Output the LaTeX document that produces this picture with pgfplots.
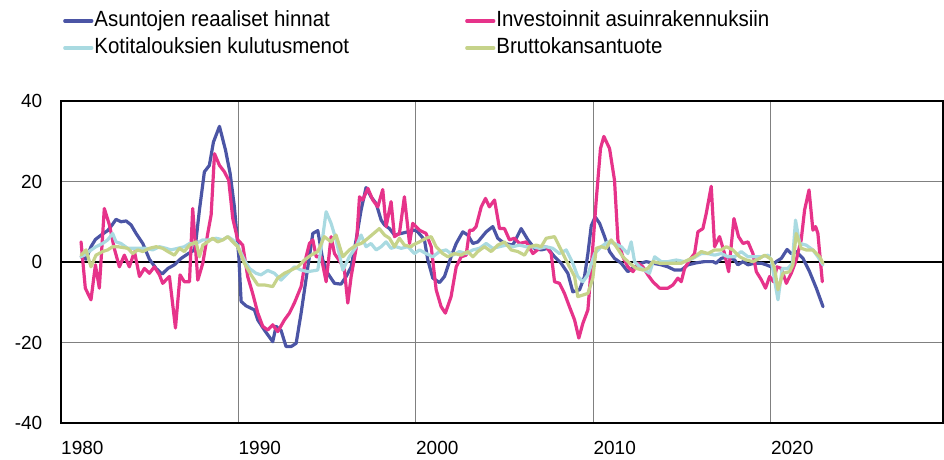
\documentclass[border=0pt]{standalone}
\usepackage{fontspec}
\setmainfont{Liberation Sans}
\newfontfamily\legfont[FakeStretch=0.93]{Liberation Sans}
\usepackage{pgfplots}
\pgfplotsset{compat=1.18}
\definecolor{cBlue}{HTML}{4B55A5}
\definecolor{cPink}{HTML}{E6338A}
\definecolor{cLight}{HTML}{A9DAE1}
\definecolor{cGreen}{HTML}{C6D38A}
\begin{document}
\begin{tikzpicture}
\path[use as bounding box] (0,0) rectangle (944pt,459pt);
\begin{axis}[
  at={(61pt,36pt)}, anchor=south west,
  width=882pt, height=322pt, scale only axis,
  xmin=1980, xmax=2029.7, ymin=-40, ymax=40,
  xtick={1980,1990,2000,2010,2020},
  xticklabels={1980,1990,2000,2010,2020},
  ytick={-40,-20,0,20,40},
  yticklabels={-40,-20,0,20,40},
  extra y ticks={0}, extra y tick labels={},
  extra y tick style={major grid style={black,line width=1.3pt}},
  grid=major,
  major grid style={gray,line width=1pt},
  major tick length=0pt,
  axis line style={black,line width=1.4pt},
  xticklabel style={anchor=north west,inner sep=0pt,yshift=-18pt,font=\fontsize{19}{22}\selectfont},
  yticklabel style={anchor=east,inner sep=0pt,xshift=-18.5pt,font=\fontsize{19}{22}\selectfont},
  /pgf/number format/assume math mode=true,
  clip=true,
  legend columns=2,
  legend cell align=left,
  legend style={at={(0.0023,1.2848)},anchor=north west,draw=none,fill=none,inner sep=0pt,
    font=\legfont\fontsize{22}{26}\selectfont,
    nodes={inner sep=1pt,text height=16pt,text depth=5pt},
    row sep=4pt,
    /tikz/every even column/.append style={column sep=115pt}},
  legend image code/.code={\draw[#1] (0pt,0pt) -- (27pt,0pt);},
  every axis plot/.append style={line width=3.2pt,line join=round,line cap=round},
]
\addplot[cBlue] table {
1981.13 1.3
1981.41 0.7
1981.69 3.8
1981.94 5.6
1982.26 6.7
1982.63 7.8
1982.88 9.2
1983.10 10.6
1983.38 10.0
1983.67 10.2
1983.95 9.2
1984.23 7.1
1984.61 4.6
1984.98 0.7
1985.36 -1.6
1985.70 -3.0
1986.02 -1.6
1986.39 -0.7
1986.77 0.9
1987.14 2.0
1987.52 3.0
1987.61 5.5
1987.80 12.9
1988.08 22.4
1988.36 24.0
1988.59 29.8
1988.93 33.7
1989.27 27.8
1989.53 22.0
1989.77 13.7
1990.02 1.3
1990.15 -9.8
1990.43 -10.9
1990.90 -11.9
1991.09 -14.4
1991.46 -16.9
1991.93 -19.8
1992.12 -16.0
1992.40 -17.0
1992.68 -21.0
1992.97 -21.0
1993.25 -20.2
1993.53 -12.7
1993.91 -1.2
1994.19 7.1
1994.47 7.8
1994.75 0.5
1995.03 -2.8
1995.41 -5.3
1995.78 -5.5
1996.07 -3.6
1996.35 -1.2
1996.63 5.5
1996.91 12.9
1997.19 18.5
1997.47 16.2
1997.76 14.5
1998.04 10.4
1998.23 9.2
1998.51 8.3
1998.79 6.7
1999.17 7.1
1999.54 7.5
1999.92 7.9
2000.10 7.5
2000.48 5.5
2000.67 0.5
2000.95 -4.0
2001.33 -5.1
2001.61 -3.6
2001.98 1.3
2002.27 4.6
2002.64 7.5
2002.92 6.7
2003.21 4.6
2003.49 5.0
2003.96 7.5
2004.33 8.8
2004.61 5.9
2004.99 4.6
2005.46 4.2
2005.93 8.3
2006.31 5.5
2006.68 3.4
2007.06 3.0
2007.43 3.4
2007.81 1.3
2008.18 -0.3
2008.56 -2.8
2008.84 -7.4
2009.22 -6.9
2009.50 -3.6
2009.69 2.1
2009.88 9.0
2010.10 11.2
2010.35 9.6
2010.63 6.3
2010.91 2.6
2011.19 0.9
2011.57 -0.3
2011.94 -2.4
2012.32 -1.2
2012.70 -0.3
2012.98 0.1
2013.35 -0.3
2013.82 -0.7
2014.20 -1.2
2014.57 -2.0
2014.95 -2.0
2015.33 -0.7
2015.80 -0.2
2016.26 0.1
2016.74 0.1
2016.92 -0.3
2017.20 0.9
2017.58 1.3
2017.96 0.5
2018.14 -0.7
2018.43 0.1
2018.71 -0.7
2019.08 -0.3
2019.46 -0.3
2019.74 -0.7
2020.02 -1.2
2020.30 0.1
2020.59 0.9
2020.91 3.1
2021.15 2.1
2021.43 2.6
2021.81 0.9
2022.18 -2.4
2022.56 -6.5
2022.94 -11.1
};
\addlegendentry{Asuntojen reaaliset hinnat}
\addplot[cPink] table {
1981.13 5.0
1981.37 -6.5
1981.69 -9.4
1981.94 -0.7
1982.16 -6.5
1982.44 13.3
1982.73 9.2
1983.00 3.4
1983.29 -1.2
1983.57 1.7
1983.85 -1.2
1984.14 2.6
1984.42 -3.6
1984.70 -1.6
1984.98 -2.8
1985.26 -1.2
1985.55 -3.2
1985.73 -5.3
1986.11 -3.6
1986.45 -16.4
1986.71 -3.2
1986.95 -4.9
1987.24 -4.9
1987.42 13.3
1987.71 -4.5
1987.99 -0.3
1988.27 7.1
1988.46 11.7
1988.65 26.9
1988.93 24.0
1989.21 22.4
1989.45 20.3
1989.68 10.8
1989.96 5.5
1990.24 4.2
1990.52 -3.6
1990.80 -7.8
1991.09 -12.7
1991.37 -16.0
1991.65 -16.9
1991.93 -15.6
1992.21 -17.3
1992.59 -14.4
1992.87 -12.7
1993.15 -10.2
1993.53 -6.1
1993.81 1.3
1994.00 4.6
1994.19 5.5
1994.38 1.3
1994.66 1.3
1994.94 -4.9
1995.22 6.3
1995.41 2.1
1995.78 -0.3
1995.97 -2.0
1996.16 -10.2
1996.35 -3.6
1996.63 3.4
1996.82 16.2
1997.00 15.4
1997.29 18.3
1997.57 15.4
1997.85 13.7
1998.13 18.0
1998.32 8.8
1998.60 15.0
1998.79 6.3
1999.07 7.1
1999.35 16.2
1999.64 4.6
1999.82 9.6
2000.20 7.9
2000.57 7.1
2000.86 3.8
2001.14 -6.9
2001.42 -11.1
2001.66 -12.7
2001.98 -8.6
2002.27 -1.2
2002.55 1.3
2002.83 1.7
2003.02 7.9
2003.21 7.9
2003.39 8.8
2003.68 13.7
2003.92 15.8
2004.14 13.7
2004.43 15.4
2004.71 8.3
2004.99 8.3
2005.27 5.5
2005.55 5.9
2005.84 4.6
2006.21 5.0
2006.59 2.1
2006.96 3.4
2007.34 3.8
2007.62 2.1
2007.81 -4.9
2008.09 -5.3
2008.37 -7.8
2008.65 -11.1
2008.94 -14.4
2009.18 -18.9
2009.41 -15.2
2009.69 -11.9
2009.97 4.0
2010.16 15.4
2010.40 28.2
2010.59 31.2
2010.91 28.2
2011.19 20.3
2011.38 5.5
2011.66 1.3
2011.94 -1.2
2012.23 -2.4
2012.51 -0.3
2012.79 -1.2
2013.07 -3.2
2013.35 -4.9
2013.73 -6.5
2014.20 -6.5
2014.48 -5.7
2014.76 -4.0
2014.95 -4.9
2015.14 -1.6
2015.42 0.5
2015.70 2.1
2015.89 7.5
2016.17 8.3
2016.36 12.1
2016.64 18.8
2016.83 3.8
2017.11 6.3
2017.39 2.1
2017.62 -2.4
2017.92 10.8
2018.18 6.3
2018.43 4.6
2018.71 5.0
2018.99 2.1
2019.18 -2.4
2019.46 -4.4
2019.70 -6.5
2019.93 -3.6
2020.15 -4.9
2020.34 -1.2
2020.59 -1.6
2020.87 -5.3
2021.15 -2.8
2021.43 0.5
2021.71 5.5
2021.90 12.9
2022.15 17.9
2022.37 7.9
2022.52 8.8
2022.65 7.1
2022.90 -4.9
};
\addlegendentry{Investoinnit asuinrakennuksiin}
\addplot[cLight] table {
1981.13 1.3
1981.41 2.1
1981.97 3.8
1982.35 4.6
1982.63 5.5
1982.91 7.1
1983.10 5.0
1983.38 4.6
1983.76 3.4
1984.42 3.4
1984.79 3.4
1985.17 3.0
1985.55 3.8
1985.92 3.4
1986.20 3.0
1986.95 3.8
1987.24 4.6
1987.61 4.6
1987.99 5.5
1988.36 5.5
1988.74 5.9
1989.12 5.5
1989.40 6.3
1989.68 5.5
1989.96 4.0
1990.33 0.5
1990.62 -1.6
1990.99 -2.8
1991.27 -3.2
1991.65 -2.1
1992.03 -2.8
1992.40 -4.5
1992.78 -2.8
1993.15 -1.2
1993.53 -2.0
1993.91 -2.4
1994.47 -2.0
1994.75 6.3
1994.94 12.5
1995.22 9.6
1995.50 5.5
1995.88 -2.0
1996.25 1.3
1996.63 3.8
1996.91 6.7
1997.19 3.8
1997.47 4.6
1997.76 3.0
1998.04 3.8
1998.32 5.0
1998.60 3.4
1998.88 3.8
1999.17 3.4
1999.54 3.8
1999.92 2.1
2000.20 3.0
2000.57 2.1
2000.95 1.3
2001.33 2.6
2001.70 3.0
2002.08 1.7
2002.45 2.6
2002.83 2.1
2003.21 3.0
2003.58 3.4
2003.96 4.6
2004.33 3.4
2004.71 3.8
2005.08 4.2
2005.46 3.8
2005.84 4.2
2006.21 3.8
2006.59 3.8
2006.96 3.4
2007.34 3.8
2007.71 3.4
2008.09 2.1
2008.47 3.0
2008.84 -0.3
2009.12 -3.6
2009.41 -4.9
2009.69 -3.2
2010.07 2.1
2010.44 3.8
2010.82 5.0
2011.19 4.6
2011.57 3.8
2011.94 2.1
2012.13 5.0
2012.32 0.1
2012.60 -1.2
2012.88 -2.0
2013.16 -2.8
2013.45 1.3
2013.82 0.1
2014.20 0.1
2014.67 0.5
2015.14 0.1
2015.61 0.9
2016.08 2.1
2016.45 2.1
2016.83 1.7
2017.20 2.1
2017.58 1.3
2017.96 1.3
2018.33 2.6
2018.71 1.3
2019.08 1.3
2019.46 1.3
2019.84 1.7
2020.02 0.5
2020.21 -4.5
2020.40 -9.4
2020.64 -1.6
2020.96 -1.6
2021.21 -0.3
2021.39 10.4
2021.62 4.6
2021.99 4.2
2022.37 3.0
2022.65 1.3
2022.94 -0.7
};
\addlegendentry{Kotitalouksien kulutusmenot}
\addplot[cGreen] table {
1981.13 1.7
1981.41 3.0
1981.69 -1.2
1981.97 1.7
1982.35 2.6
1982.63 3.0
1982.91 3.8
1983.20 3.8
1983.76 3.4
1984.04 2.1
1984.32 3.0
1984.61 2.6
1984.98 3.4
1985.36 3.8
1985.73 3.4
1986.02 2.6
1986.39 1.7
1986.67 3.4
1986.95 2.6
1987.24 4.2
1987.61 5.0
1987.80 1.3
1987.99 4.2
1988.27 5.0
1988.55 5.9
1988.83 5.0
1989.12 5.5
1989.40 6.3
1989.68 5.0
1989.96 3.8
1990.33 -0.3
1990.71 -3.2
1991.09 -5.7
1991.46 -5.7
1991.93 -6.1
1992.21 -4.0
1992.59 -2.8
1992.97 -2.0
1993.34 -1.2
1993.72 0.5
1994.09 1.7
1994.47 2.6
1994.84 6.3
1995.22 5.0
1995.50 6.7
1995.88 1.3
1996.25 3.0
1996.63 4.2
1996.91 4.6
1997.19 5.5
1997.94 8.3
1998.23 6.7
1998.51 5.9
1998.79 3.8
1999.07 5.9
1999.35 4.2
1999.73 3.8
1999.82 4.2
2000.20 5.0
2000.57 5.9
2000.86 6.3
2001.14 3.8
2001.51 2.1
2001.80 1.3
2002.17 2.1
2002.55 1.7
2002.92 2.6
2003.21 1.3
2003.49 2.6
2003.86 3.8
2004.24 2.6
2004.61 4.2
2004.99 5.0
2005.37 3.0
2005.74 2.6
2006.12 1.7
2006.40 3.8
2006.78 4.2
2007.06 3.8
2007.34 5.9
2007.81 6.3
2008.09 3.8
2008.37 1.3
2008.65 -1.2
2008.94 -3.6
2009.12 -8.6
2009.41 -8.2
2009.69 -7.8
2009.97 -4.0
2010.16 3.4
2010.44 3.8
2010.72 3.4
2011.00 5.5
2011.29 3.8
2011.66 1.3
2012.04 -0.3
2012.41 -1.6
2012.79 -2.0
2013.07 -1.6
2013.35 0.1
2013.73 -0.3
2014.20 -0.3
2014.95 -0.3
2015.33 0.5
2015.70 1.3
2016.08 2.6
2016.45 2.1
2016.83 3.0
2017.20 3.0
2017.49 3.8
2017.86 3.0
2018.24 1.3
2018.61 0.5
2018.99 0.1
2019.37 0.9
2019.65 1.7
2020.02 0.7
2020.21 -1.6
2020.40 -6.9
2020.68 -2.8
2021.06 -2.4
2021.24 -0.7
2021.43 7.1
2021.71 3.4
2021.99 3.0
2022.37 3.0
2022.75 1.3
2022.94 -0.3
};
\addlegendentry{Bruttokansantuote}
\node[anchor=base west,inner sep=0pt,font=\fontsize{19}{22}\selectfont] at (rel axis cs:0.0023,1) [yshift=7pt] {Vuosimuutos*,\ \ \%};
\end{axis}
\end{tikzpicture}
\end{document}
